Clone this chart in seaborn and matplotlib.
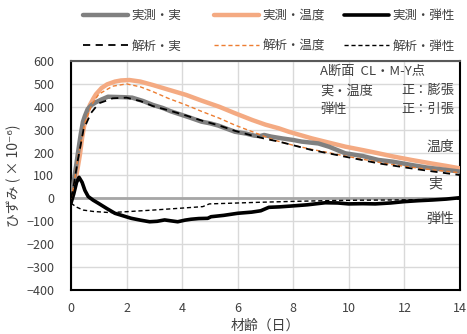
import matplotlib
matplotlib.use("Agg")
import matplotlib.pyplot as plt
import seaborn as sns
import pandas as pd
from matplotlib.lines import Line2D

# ---- data ----
meas_real_d = [0, 0.05, 0.1, 0.15, 0.2, 0.24, 0.3, 0.35, 0.43, 0.5, 0.6, 0.74, 0.9, 1.1, 1.33, 1.6, 1.9, 2.2,
               2.6, 2.95, 3.3, 3.6, 3.9, 4.3, 4.7, 5.0, 5.3, 5.9, 6.3, 6.6, 6.8, 6.95, 7.2, 7.6, 8.0, 8.3,
               8.67, 8.9, 9.3, 9.87, 10.5, 11.06, 11.6, 12.25, 12.8, 13.4, 14]
meas_real_v = [0, 35, 75, 115, 155, 190, 240, 280, 335, 360, 390, 408, 420, 432, 444, 443, 442, 440,
               425, 408, 395, 380, 368, 352, 335, 328, 318, 291, 283, 274, 272, 277, 270, 262, 255, 248,
               243, 240, 225, 197, 185, 168, 160, 146, 135, 126, 117]

meas_temp_d = [0, 0.1, 0.2, 0.32, 0.4, 0.5, 0.6, 0.68, 0.8, 0.9, 1.1, 1.3, 1.58, 1.8, 2.1, 2.5, 2.95, 3.5,
               4.14, 4.7, 5.34, 5.9, 6.53, 7.0, 7.48, 7.84, 8.67, 9.3, 9.87, 10.5, 11.06, 11.6, 12.25, 13.0,
               13.5, 14]
meas_temp_v = [0, 45, 105, 190, 265, 335, 380, 408, 435, 455, 482, 498, 510, 515, 517, 510, 495, 475,
               452, 427, 400, 372, 342, 322, 306, 291, 262, 243, 226, 211, 197, 183, 168, 152, 142, 131]

meas_elas_d = [0, 0.1, 0.2, 0.29, 0.4, 0.5, 0.62, 0.8, 0.98, 1.3, 1.58, 1.9, 2.17, 2.5, 2.83, 3.1, 3.37,
               3.6, 3.84, 4.1, 4.32, 4.6, 4.92, 5.04, 5.5, 6.0, 6.5, 6.83, 7.12, 7.5, 7.96, 8.5, 9.15, 9.6,
               9.99, 10.5, 10.95, 11.5, 12.0, 12.5, 13.0, 13.5, 14]
meas_elas_v = [-20, 20, 70, 92, 70, 35, 8, -8, -21, -45, -65, -77, -87, -95, -102, -100, -94,
               -98, -102, -95, -91, -88, -87, -80, -74, -65, -60, -54, -39, -37, -33, -28, -19, -20,
               -24, -23, -24, -20, -14, -10, -7, -3, 3]

ana_real_d = [0, 0.1, 0.25, 0.45, 0.72, 1.0, 1.5, 2.0, 2.5, 2.95, 3.5, 4.14, 4.7, 5.34, 5.9, 6.5, 7.0,
              7.48, 8.0, 8.67, 9.3, 9.87, 10.5, 11.06, 11.6, 12.25, 13.0, 14]
ana_real_v = [0, 60, 170, 300, 373, 415, 437, 440, 425, 403, 385, 362, 340, 318, 295, 275, 260,
              248, 232, 211, 196, 182, 167, 153, 143, 131, 118, 102]

ana_temp_d = [0, 0.1, 0.25, 0.5, 0.75, 1.0, 1.5, 2.0, 2.5, 2.95, 3.5, 4.14, 4.7, 5.34, 5.9, 6.53, 7.3,
              8.0, 8.67, 9.3, 9.87, 10.5, 11.06, 11.6, 12.25, 13.0, 14]
ana_temp_v = [0, 55, 180, 330, 410, 455, 490, 500, 487, 466, 437, 408, 380, 350, 320, 291, 255,
              232, 214, 199, 185, 171, 158, 147, 136, 125, 112]

ana_elas_d = [0, 0.2, 0.44, 0.8, 1.4, 2.0, 2.95, 3.8, 4.74, 4.98, 5.5, 6.77, 8.0, 9.15, 10.3, 11.5, 12.7, 14]
ana_elas_v = [-21, -38, -51, -57, -62, -58, -51, -44, -36, -24, -22, -17, -13, -10, -8, -7, -5, -3]

x_ticks = list(range(0, 15, 2))
y_ticks = list(range(-400, 601, 100))

sns.set_style("white")
plt.rcParams['font.family'] = ['Noto Sans CJK JP', 'DejaVu Sans']

W, H = 467, 334
fig = plt.figure(figsize=(W / 100, H / 100), dpi=100)
ax = fig.add_axes([71 / W, 44 / H, 389 / W, 229 / H])

GRAY = '#808080'
ORANGE = '#F4AA82'
DORANGE = '#ED7D31'

def draw(d, v, **kw):
    df = pd.DataFrame({'d': d, 'v': v})
    sns.lineplot(data=df, x='d', y='v', ax=ax, estimator=None, sort=False, **kw)

draw(meas_temp_d, meas_temp_v, color=ORANGE, lw=3.2, zorder=3)
draw(meas_real_d, meas_real_v, color=GRAY, lw=3.2, zorder=4)
draw(meas_elas_d, meas_elas_v, color='black', lw=2.6, zorder=5)
draw(ana_temp_d, ana_temp_v, color=DORANGE, lw=1.0, dashes=(3, 2), zorder=6)
draw(ana_real_d, ana_real_v, color='black', lw=1.3, dashes=(4, 3), zorder=7)
draw(ana_elas_d, ana_elas_v, color='black', lw=1.0, dashes=(3, 2), zorder=6)

ax.set_xlim(0, 14)
ax.set_ylim(-400, 600)
ax.set_xticks(x_ticks)
ax.set_yticks(y_ticks)
ax.grid(True, color='#D9D9D9', lw=1.0, zorder=0)
ax.set_axisbelow(True)
ax.axhline(0, color='#A6A6A6', lw=2.0, zorder=1)
ax.tick_params(axis='both', length=0, labelsize=9, labelcolor='#404040')
ax.tick_params(axis='y', pad=12)
ax.tick_params(axis='x', pad=9)
for s in ['left', 'bottom', 'right']:
    ax.spines[s].set_color('black')
    ax.spines[s].set_linewidth(1.5)
ax.spines['top'].set_color('#595959')
ax.spines['top'].set_linewidth(1.5)

ax.set_xlabel('材齢（日）', fontsize=10, color='#404040', labelpad=2)
ax.set_ylabel('ひずみ ( × 10⁻⁶)', fontsize=10, color='#404040', labelpad=4)

tc = '#404040'
fs = 9.5
ax.text(0.64, 0.955, 'A断面  CL・M-Y点', transform=ax.transAxes, fontsize=fs, color=tc, va='center')
ax.text(0.64, 0.87, '実・温度', transform=ax.transAxes, fontsize=fs, color=tc, va='center')
ax.text(0.985, 0.87, '正：膨張', transform=ax.transAxes, fontsize=fs, color=tc, va='center', ha='right')
ax.text(0.64, 0.79, '弾性', transform=ax.transAxes, fontsize=fs, color=tc, va='center')
ax.text(0.985, 0.79, '正：引張', transform=ax.transAxes, fontsize=fs, color=tc, va='center', ha='right')
ax.text(0.985, 0.627, '温度', transform=ax.transAxes, fontsize=10, color=tc, va='center', ha='right')
ax.text(0.955, 0.465, '実', transform=ax.transAxes, fontsize=10, color=tc, va='center', ha='right')
ax.text(0.985, 0.31, '弾性', transform=ax.transAxes, fontsize=10, color=tc, va='center', ha='right')

groups = [
    ([Line2D([], [], color=GRAY, lw=3.2), Line2D([], [], color='black', lw=1.3, dashes=(4, 3))],
     ['実測・実', '解析・実'], 83),
    ([Line2D([], [], color=ORANGE, lw=3.2), Line2D([], [], color=DORANGE, lw=1.0, dashes=(3, 2))],
     ['実測・温度', '解析・温度'], 214),
    ([Line2D([], [], color='black', lw=2.6), Line2D([], [], color='black', lw=1.0, dashes=(3, 2))],
     ['実測・弾性', '解析・弾性'], 344),
]
for hs, ls, xpx in groups:
    leg = fig.legend(hs, ls, loc='upper left', bbox_to_anchor=(xpx / W, 1 - 9 / H),
                     frameon=False, fontsize=9, handlelength=3.6, handletextpad=0.3,
                     labelspacing=1.4, borderpad=0, borderaxespad=0)
    for t in leg.get_texts():
        t.set_color('#404040')

fig.savefig('out.png', dpi=100)
